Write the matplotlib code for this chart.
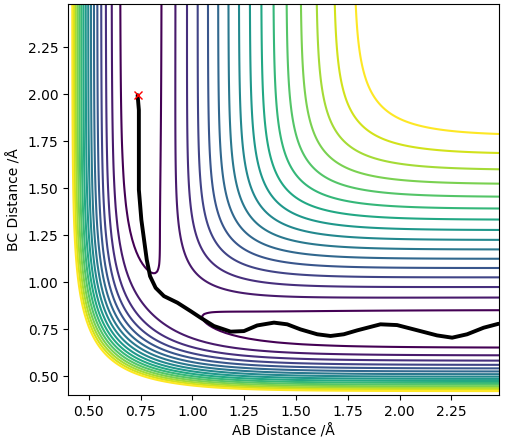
import numpy as np
import matplotlib
matplotlib.use("Agg")
import matplotlib.pyplot as plt

# LEPS surface parameters for H + H2 (eV, Angstrom)
D_E = 4.746
BETA = 1.942
R_0 = 0.742
SATO = 0.185

grid_lo = 0.4
grid_hi = 2.48
grid_n = 209

# contour levels (eV), equally spaced
levels = [-4.570, -4.344, -4.118, -3.892, -3.666, -3.440, -3.214, -2.988,
          -2.762, -2.536, -2.310, -2.084, -1.858, -1.632, -1.406, -1.180]

# trajectory
traj_ab = [0.736, 0.742, 0.742, 0.746, 0.754, 0.767, 0.780, 0.796, 0.823,
           0.863, 0.928, 0.992, 1.040, 1.104, 1.185, 1.249, 1.313, 1.394,
           1.458, 1.522, 1.603, 1.667, 1.731, 1.796, 1.908, 1.988, 2.069,
           2.181, 2.254, 2.326, 2.406, 2.478]
traj_bc = [1.995, 1.916, 1.492, 1.439, 1.332, 1.226, 1.120, 1.032, 0.970,
           0.926, 0.891, 0.846, 0.811, 0.767, 0.737, 0.740, 0.770, 0.785,
           0.776, 0.749, 0.723, 0.714, 0.723, 0.744, 0.776, 0.772, 0.749,
           0.717, 0.705, 0.723, 0.758, 0.779]


def coulomb(r):
    x = r - R_0
    return D_E / (4 * (1 + SATO)) * ((3 + SATO) * np.exp(-2 * BETA * x)
                                     - (2 + 6 * SATO) * np.exp(-BETA * x))


def exchange(r):
    x = r - R_0
    return D_E / (4 * (1 + SATO)) * ((1 + 3 * SATO) * np.exp(-2 * BETA * x)
                                     - (6 + 2 * SATO) * np.exp(-BETA * x))


def leps(rab, rbc):
    rac = rab + rbc
    jab, jbc, jac = exchange(rab), exchange(rbc), exchange(rac)
    return (coulomb(rab) + coulomb(rbc) + coulomb(rac)
            - np.sqrt(0.5 * ((jab - jbc) ** 2 + (jbc - jac) ** 2 + (jac - jab) ** 2)))


r = np.linspace(grid_lo, grid_hi, grid_n)
AB, BC = np.meshgrid(r, r)
V = leps(AB, BC)

fig = plt.figure(figsize=(5.07, 4.41), dpi=100)
ax = fig.add_axes([68 / 507, 1 - 395 / 441, 431 / 507, 391 / 441])
ax.contour(AB, BC, V, levels=levels, cmap="viridis")
ax.plot(traj_ab, traj_bc, color="k", lw=2.8, solid_capstyle="round",
        solid_joinstyle="round")
ax.plot(traj_ab[0], traj_bc[0], "rx")
ax.set_xlabel("AB Distance /Å")
ax.set_ylabel("BC Distance /Å")
fig.savefig("out.png", dpi=100)
